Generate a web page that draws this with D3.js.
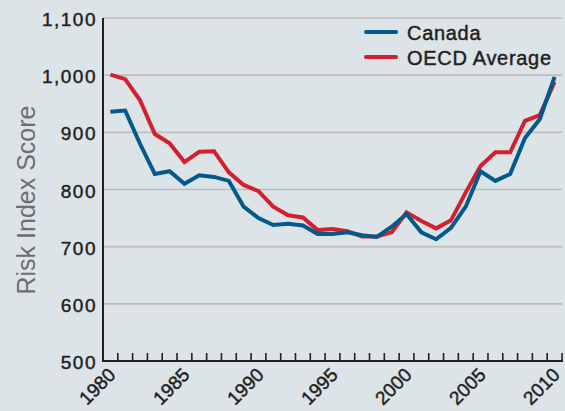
<html>
<head>
<script src="https://d3js.org/d3.v7.min.js"></script>
<style>
  body { margin: 0; background: #dde4e8; }
  svg { display: block; }
  text { font-family: "Liberation Sans", Arial, sans-serif; }
  .lab { stroke: #231f20; stroke-width: 0.45; }
</style>
</head>
<body>
<div id="chart"></div>
<script>
// years and risk index scores
var years = d3.range(1980, 2011);
var canada = [936, 938, 880, 827, 832, 810, 825, 822, 815, 770, 750, 738, 740, 737, 722, 722,
              725, 720, 717, 735, 757, 725, 713, 733, 770, 832, 815, 827, 890, 923, 997];
var oecd = [1001, 993, 956, 897, 881, 848, 866, 867, 830, 808, 797, 770, 755, 751, 729, 731,
            727, 718, 718, 725, 760, 745, 732, 746, 795, 841, 865, 865, 920, 930, 988];
var yTicks = [500, 600, 700, 800, 900, 1000, 1100];
var xLabels = [1980, 1985, 1990, 1995, 2000, 2005, 2010];

var width = 565, height = 411;
var svg = d3.select("#chart").append("svg")
    .attr("width", width).attr("height", height);

var x = d3.scaleLinear().domain([1979.5, 2010.5]).range([103, 562]);
var y = d3.scaleLinear().domain([500, 1100]).range([361, 18]);

// gridlines
svg.selectAll(".grid")
    .data(yTicks.slice(1))
    .enter().append("line")
    .attr("x1", 103).attr("x2", 562)
    .attr("y1", function(d) { return y(d); })
    .attr("y2", function(d) { return y(d); })
    .attr("stroke", "#bcbcbc")
    .attr("stroke-width", 1.6);

// y tick labels
svg.selectAll(".ylab")
    .data(yTicks)
    .enter().append("text")
    .attr("class", "lab")
    .attr("x", 97)
    .attr("y", function(d) { return y(d) + 1.5; })
    .attr("dy", "0.35em")
    .attr("text-anchor", "end")
    .attr("font-size", 19)
    .attr("letter-spacing", "1.5")
    .attr("fill", "#231f20")
    .text(function(d) { return d3.format(",")(d); });

// y axis title
svg.append("text")
    .attr("transform", "translate(35,200) rotate(-90)")
    .attr("text-anchor", "middle")
    .attr("font-size", 25)
    .attr("fill", "#6d6e71")
    .text("Risk Index Score");

// lines
var line = d3.line()
    .x(function(d, i) { return x(years[i]); })
    .y(function(d) { return y(d); });

svg.append("path")
    .datum(oecd)
    .attr("d", line)
    .attr("fill", "none")
    .attr("stroke", "#d2202f")
    .attr("stroke-width", 4);

svg.append("path")
    .datum(canada)
    .attr("d", line)
    .attr("fill", "none")
    .attr("stroke", "#005a8c")
    .attr("stroke-width", 4);

// axes
svg.append("line")
    .attr("x1", 103).attr("x2", 103)
    .attr("y1", 18).attr("y2", 362)
    .attr("stroke", "#231f20").attr("stroke-width", 2);

svg.append("line")
    .attr("x1", 102).attr("x2", 563)
    .attr("y1", 361).attr("y2", 361)
    .attr("stroke", "#231f20").attr("stroke-width", 2);

svg.selectAll(".tick")
    .data(years)
    .enter().append("line")
    .attr("x1", function(d) { return x(d + 0.5); })
    .attr("x2", function(d) { return x(d + 0.5); })
    .attr("y1", 361).attr("y2", 353)
    .attr("stroke", "#231f20").attr("stroke-width", 1.6);

svg.selectAll(".xlab")
    .data(xLabels)
    .enter().append("text")
    .attr("class", "lab")
    .attr("transform", function(d) { return "translate(" + (x(d + 0.5) - 1) + ",376) rotate(-45)"; })
    .attr("text-anchor", "end")
    .attr("font-size", 19)
    .attr("fill", "#231f20")
    .text(function(d) { return d; });

// legend
var legend = [{name: "Canada", color: "#005a8c"}, {name: "OECD Average", color: "#d2202f"}];
var lg = svg.selectAll(".legend")
    .data(legend)
    .enter().append("g")
    .attr("transform", function(d, i) { return "translate(366," + (32 + i * 25) + ")"; });
lg.append("line")
    .attr("x1", 0).attr("x2", 30)
    .attr("stroke", function(d) { return d.color; })
    .attr("stroke-width", 4)
    .attr("stroke-linecap", "round");
lg.append("text")
    .attr("class", "lab")
    .attr("x", 41)
    .attr("y", 7.5)
    .attr("font-size", 20)
    .attr("letter-spacing", "0.7")
    .attr("fill", "#231f20")
    .text(function(d) { return d.name; });
</script>
</body>
</html>
